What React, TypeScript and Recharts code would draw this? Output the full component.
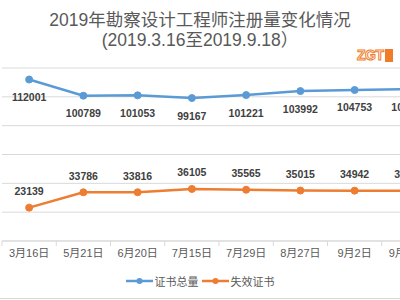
import { LineChart, Line, XAxis, YAxis, CartesianGrid, Legend, LabelList } from "recharts";

const categories = ["3月16日", "5月21日", "6月20日", "7月15日", "7月29日", "8月27日", "9月2日", "9月18日"];
const totalCerts = [112001, 100789, 101053, 99167, 101221, 103992, 104753, 105280];
const invalidCerts = [23139, 33786, 33816, 36105, 35565, 35015, 34942, 34906];
const yTicks = [0, 20000, 40000, 60000, 80000, 100000, 120000];

const BLUE = "#5b9bd5";
const ORANGE = "#ed7d31";
const FONT = "'Liberation Sans', Arial, 'Noto Sans CJK SC', sans-serif";

const data = categories.map((name, i) => ({
  name,
  total: totalCerts[i],
  invalid: invalidCerts[i],
}));

// plot is 434px wide, half a band of padding on each side
const BAND = 434 / categories.length;

function AxisTick(props: any) {
  const { x, y, payload } = props;
  return (
    <g>
      <line x1={x - BAND / 2} y1={y} x2={x - BAND / 2} y2={y + 5} stroke="#d9d9d9" />
      <text x={x} y={y + 16} textAnchor="middle" fontSize={11} fill="#595959" fontFamily={FONT}>
        {payload.value}
      </text>
    </g>
  );
}

const makeLabel = (dy: number) => (props: any) => {
  const { x, y, value } = props;
  return (
    <text
      x={x}
      y={y + dy}
      textAnchor="middle"
      dominantBaseline="central"
      fontSize={10.5}
      fontWeight="bold"
      fill="#404040"
      fontFamily={FONT}
    >
      {value}
    </text>
  );
};

function LegendContent() {
  const items = [
    { label: "证书总量", color: BLUE },
    { label: "失效证书", color: ORANGE },
  ];
  return (
    <div style={{ display: "flex", justifyContent: "center", gap: 3, fontFamily: FONT, fontSize: 11, color: "#595959" }}>
      {items.map((it) => (
        <div key={it.label} style={{ display: "flex", alignItems: "center", gap: 2 }}>
          <svg width={27} height={10}>
            <line x1={0} y1={5} x2={27} y2={5} stroke={it.color} strokeWidth={2.5} />
            <circle cx={13.5} cy={5} r={3} fill={it.color} />
          </svg>
          <span>{it.label}</span>
        </div>
      ))}
    </div>
  );
}

export default function App() {
  return (
    <div style={{ position: "absolute", left: 0, top: 0, width: 400, height: 300, overflow: "hidden", background: "#fff" }}>
      <div style={{ position: "absolute", left: 0, top: 0, width: 400, textAlign: "center", color: "#595959", fontFamily: FONT }}>
        <div style={{ fontSize: 17.5, lineHeight: "20px", marginTop: 10 }}>2019年勘察设计工程师注册量变化情况</div>
        <div style={{ fontSize: 17.5, lineHeight: "20px" }}>(2019.3.16至2019.9.18）</div>
      </div>
      <div style={{ position: "absolute", left: 357, top: 47, display: "flex", alignItems: "center" }}>
        <span style={{ fontFamily: FONT, fontSize: 14, fontWeight: "bold", color: "#fff", WebkitTextStroke: "1px #f07c2a", letterSpacing: -0.5 }}>ZGT</span>
        <span style={{ display: "inline-block", width: 8, height: 13, background: "#f07c2a", marginLeft: 1 }} />
      </div>
      <LineChart width={440} height={300} data={data} margin={{ top: 68, right: 4, left: 2, bottom: 0 }}>
        <CartesianGrid vertical={false} stroke="#d9d9d9" />
        <XAxis
          dataKey="name"
          height={59}
          tickLine={false}
          tickSize={0}
          tickMargin={0}
          stroke="#d9d9d9"
          tick={<AxisTick />}
          interval={0}
          padding={{ left: BAND / 2, right: BAND / 2 }}
        />
        <YAxis hide domain={[0, 120000]} ticks={yTicks} />
        <Legend
          verticalAlign="middle"
          align="center"
          layout="horizontal"
          content={<LegendContent />}
          wrapperStyle={{ top: 273, left: 0, width: 400 }}
        />
        <Line
          dataKey="total"
          name="证书总量"
          stroke={BLUE}
          strokeWidth={2.5}
          dot={{ r: 3.5, fill: BLUE, stroke: BLUE, strokeWidth: 1 }}
          isAnimationActive={false}
        >
          <LabelList dataKey="total" content={makeLabel(17.5)} />
        </Line>
        <Line
          dataKey="invalid"
          name="失效证书"
          stroke={ORANGE}
          strokeWidth={2.5}
          dot={{ r: 3.5, fill: ORANGE, stroke: ORANGE, strokeWidth: 1 }}
          isAnimationActive={false}
        >
          <LabelList dataKey="invalid" content={makeLabel(-16.5)} />
        </Line>
      </LineChart>
      <div style={{ position: "absolute", left: 0, top: 298, width: 400, height: 1, background: "#d9d9d9" }} />
    </div>
  );
}
